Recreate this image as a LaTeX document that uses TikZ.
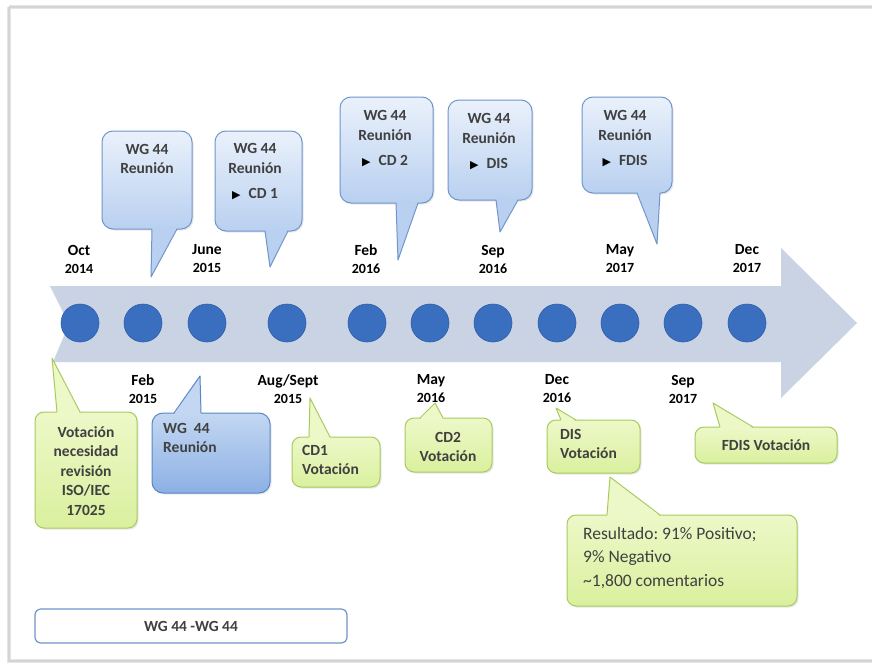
\documentclass[tikz,border=0pt]{standalone}
\usepackage{fontspec}
\setmainfont{Carlito}
\newfontfamily\symfont{DejaVu Sans}
\usetikzlibrary{shadows}
\definecolor{framec}{HTML}{D4D4D4}
\definecolor{arrowc}{HTML}{C9D3E4}
\definecolor{dotc}{HTML}{3A6EBF}
\definecolor{dotb}{HTML}{2E5EA8}
\definecolor{bluetop}{HTML}{EAF1FB}
\definecolor{bluebot}{HTML}{B9D0F0}
\definecolor{bluebord}{HTML}{6F95CC}
\definecolor{dbluetop}{HTML}{C3D7F2}
\definecolor{dbluebot}{HTML}{8CB0E4}
\definecolor{dbluebord}{HTML}{5A86C6}
\definecolor{greentop}{HTML}{EDF8C8}
\definecolor{greenbot}{HTML}{DAF09E}
\definecolor{greenbord}{HTML}{A8CB5E}
\definecolor{txtc}{HTML}{404040}
\newcommand\mycsize{\fontsize{15.5}{19.5}\selectfont}
\newcommand\mydsize{\fontsize{15.5}{18}\selectfont}
\newcommand\myyear[1]{{\fontsize{14}{18}\selectfont #1}}
\newcommand\myarrowmark{{\color{black}\symfont\fontsize{11}{11}\selectfont ▶}\hspace{8pt}}
\tikzset{
  calloutbox/.style={draw, rounded corners=11pt, inner sep=0pt, line width=1pt,
    drop shadow={opacity=0.18, shadow xshift=1.5pt, shadow yshift=-1.5pt}},
  bluebox/.style={calloutbox, draw=bluebord, top color=bluetop, bottom color=bluebot},
  dbluebox/.style={calloutbox, draw=dbluebord, top color=dbluetop, bottom color=dbluebot},
  greenbox/.style={calloutbox, rounded corners=9pt, draw=greenbord, top color=greentop, bottom color=greenbot},
  bluetri/.style={fill=bluebot},
  dbluetri/.style={fill=dbluetop},
  greentri/.style={fill=greentop},
  blueside/.style={draw=bluebord, line width=1pt, line join=round},
  dblueside/.style={draw=dbluebord, line width=1pt, line join=round},
  greenside/.style={draw=greenbord, line width=1pt, line join=round},
  ctext/.style={font=\mycsize\bfseries, text=txtc, align=center, inner sep=0pt},
  ltext/.style={font=\mycsize\bfseries, text=txtc, align=left, inner sep=0pt, anchor=north west},
  datelbl/.style={font=\mydsize\bfseries, text=black, align=center, inner sep=0pt},
  dot/.style={circle, minimum size=38pt, inner sep=0pt, fill=dotc, draw=dotb, line width=0.6pt}
}
\begin{document}
\frenchspacing
\begin{tikzpicture}[x=1pt,y=-1pt]
\useasboundingbox (0,0) rectangle (872,664);
\fill[white] (0,0) rectangle (872,664);
% frame
\draw[framec!60, line width=4pt] (9,7) -- (880,7);
\draw[framec!60, line width=4pt] (9,7) -- (9,661) -- (880,661);
\draw[framec, line width=1.2pt] (9,7) -- (880,7);
\draw[framec, line width=1.2pt] (9,7) -- (9,661) -- (880,661);

% arrow band
\fill[arrowc] (50,286) -- (781,286) -- (781,248) -- (857,323) -- (781,398) -- (781,362) -- (53,362) -- (69,324) -- cycle;

% dots
\foreach \i/\x in {1/80,2/143,3/207,4/287,5/367,6/430,7/493,8/557,9/620,10/683,11/747}
  \node[dot] (d\i) at (\x,323) {};

% date labels above
\node[datelbl] (la1) at (79,259) {Oct\\\myyear{2014}};
\node[datelbl] (la2) at (207,259) {June\\\myyear{2015}};
\node[datelbl] (la3) at (366,259) {Feb\\\myyear{2016}};
\node[datelbl] (la4) at (493,259) {Sep\\\myyear{2016}};
\node[datelbl] (la5) at (620,259) {May\\\myyear{2017}};
\node[datelbl] (la6) at (747,259) {Dec\\\myyear{2017}};
% date labels below
\node[datelbl] (lb1) at (143,389) {Feb\\\myyear{2015}};
\node[datelbl] (lb2) at (288,389) {Aug/Sept\\\myyear{2015}};
\node[datelbl] (lb3) at (431,389) {May\\\myyear{2016}};
\node[datelbl] (lb4) at (557,389) {Dec\\\myyear{2016}};
\node[datelbl] (lb5) at (683,389) {Sep\\\myyear{2017}};

% ---- blue callouts above ----
% B1
\node[bluebox, minimum width=90pt, minimum height=98pt] (b1) at (147,180) {};
\coordinate (p1) at (151,277);
\fill[bluetri] (152,227.6) -- (p1) -- (177,227.6) -- cycle;
\draw[blueside] (152,229) -- (p1) -- (177,229);
\node[ctext] (t1) at (147,159) {WG 44\\Reunión};
% B2
\node[bluebox, minimum width=87pt, minimum height=100pt] (b2) at (258.5,181) {};
\coordinate (p2) at (270,267);
\fill[bluetri] (265,229.6) -- (p2) -- (288,229.6) -- cycle;
\draw[blueside] (265,231) -- (p2) -- (288,231);
\node[ctext] (t2) at (255,172) {WG 44\\Reunión\\[6pt]\myarrowmark CD 1};
% B3
\node[bluebox, minimum width=93pt, minimum height=106pt] (b3) at (386.5,150) {};
\coordinate (p3) at (398,260);
\fill[bluetri] (396,201.6) -- (p3) -- (418,201.6) -- cycle;
\draw[blueside] (396,203) -- (p3) -- (418,203);
\node[ctext] (t3) at (385,139) {WG 44\\Reunión\\[6pt]\myarrowmark CD 2};
% B4
\node[bluebox, minimum width=84pt, minimum height=100pt] (b4) at (490,150) {};
\coordinate (p4) at (500,232);
\fill[bluetri] (496,198.6) -- (p4) -- (518,198.6) -- cycle;
\draw[blueside] (496,200) -- (p4) -- (518,200);
\node[ctext] (t4) at (489,142) {WG 44\\Reunión\\[6pt]\myarrowmark DIS};
% B5
\node[bluebox, minimum width=90pt, minimum height=96pt] (b5) at (627,145) {};
\coordinate (p5) at (657,244);
\fill[bluetri] (637,191.6) -- (p5) -- (660,191.6) -- cycle;
\draw[blueside] (637,193) -- (p5) -- (660,193);
\node[ctext] (t5) at (625,139) {WG 44\\Reunión\\[6pt]\myarrowmark FDIS};

% ---- callouts below ----
% G1
\node[greenbox, minimum width=102pt, minimum height=116pt] (g1) at (86,470) {};
\coordinate (q1) at (52,358);
\fill[greentri] (57,413.4) -- (q1) -- (80,413.4) -- cycle;
\draw[greenside] (57,412) -- (q1) -- (80,412);
\node[ctext] (u1) at (86,471) {Votación\\necesidad\\revisión\\ISO/IEC\\17025};
% D blue
\node[dbluebox, minimum width=118pt, minimum height=80pt] (g2) at (211,453) {};
\coordinate (q2) at (200,376);
\fill[dbluetri] (174,414.4) -- (q2) -- (201,414.4) -- cycle;
\draw[dblueside] (174,413) -- (q2) -- (201,413);
\node[ltext] (u2) at (163,423) {WG\ \ 44\\Reunión};
% G3
\node[greenbox, minimum width=88pt, minimum height=50pt] (g3) at (336,462) {};
\coordinate (q3) at (310,398);
\fill[greentri] (309,438.4) -- (q3) -- (330,438.4) -- cycle;
\draw[greenside] (309,437) -- (q3) -- (330,437);
\node[ltext] (u3) at (302,445) {CD1\\Votación};
% G4
\node[greenbox, minimum width=87pt, minimum height=54pt] (g4) at (448.5,445) {};
\coordinate (q4) at (435,403);
\fill[greentri] (420,419.4) -- (q4) -- (443,419.4) -- cycle;
\draw[greenside] (420,418) -- (q4) -- (443,418);
\node[ctext] (u4) at (448,447) {CD2\\Votación};
% G5
\node[greenbox, minimum width=93pt, minimum height=53pt] (g5) at (593.5,446.5) {};
\coordinate (q5) at (556,408);
\fill[greentri] (561,421.4) -- (q5) -- (576,421.4) -- cycle;
\draw[greenside] (561,420) -- (q5) -- (576,420);
\node[ltext] (u5) at (560,429) {DIS\\Votación};
% G6
\node[greenbox, minimum width=142pt, minimum height=36pt] (g6) at (766,445) {};
\coordinate (q6) at (713,403);
\fill[greentri] (720,428.4) -- (q6) -- (753,428.4) -- cycle;
\draw[greenside] (720,427) -- (q6) -- (753,427);
\node[ctext] (u6) at (766,445) {FDIS Votación};
% G7
\node[greenbox, minimum width=230pt, minimum height=91pt] (g7) at (682,560.5) {};
\coordinate (q7) at (610,477);
\fill[greentri] (607,516.4) -- (q7) -- (660,516.4) -- cycle;
\draw[greenside] (607,515) -- (q7) -- (660,515);
\node[ltext, font=\fontsize{17.5}{23.5}\selectfont] (u7) at (583,527) {Resultado: 91\% Positivo;\\9\% Negativo\\\textasciitilde1,800 comentarios};

% bottom legend box
\node[draw=bluebord, line width=1.2pt, rounded corners=6pt, fill=white, minimum width=312pt, minimum height=34pt, inner sep=0pt,
  font=\mycsize\bfseries, text=txtc] (leg) at (191,626) {WG 44 -WG 44};
\end{tikzpicture}
\end{document}
